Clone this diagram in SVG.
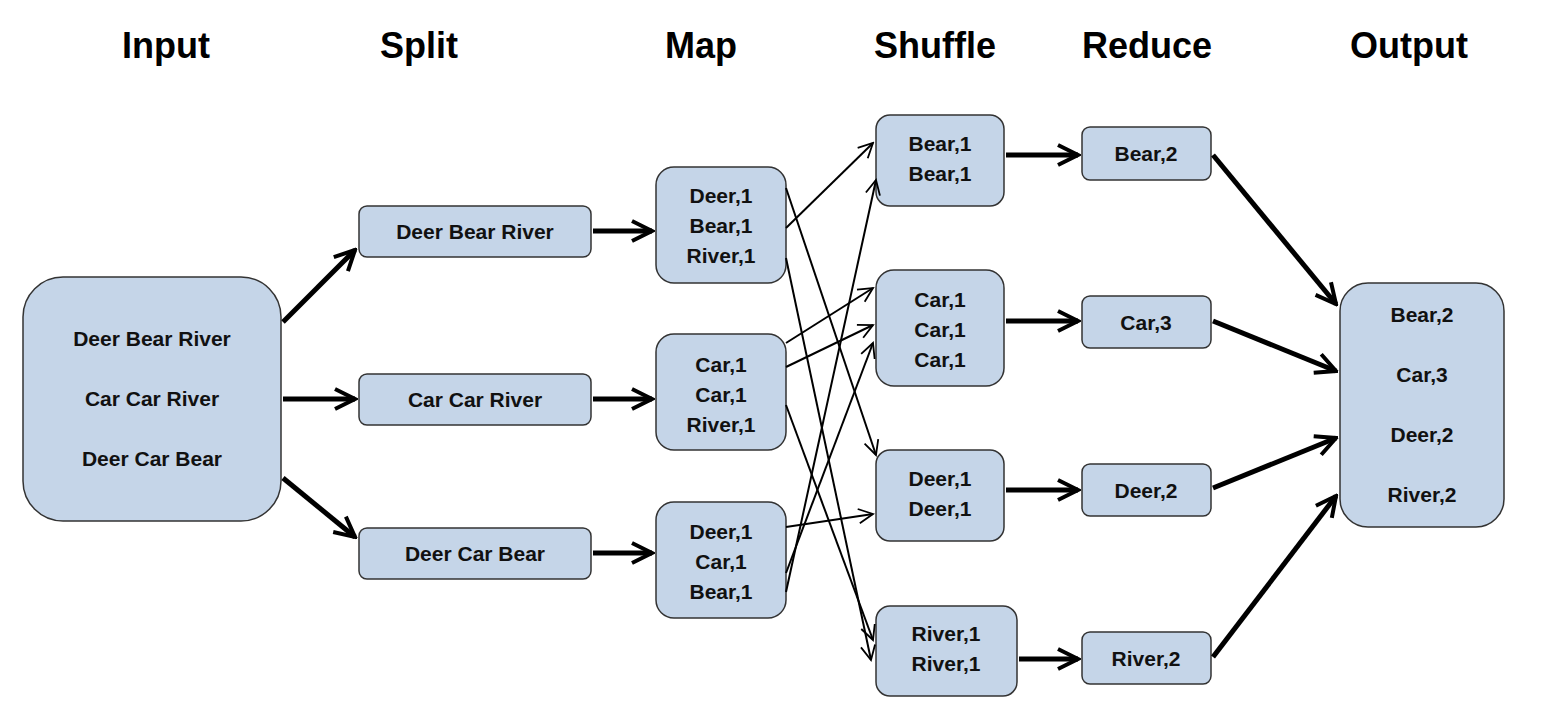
<svg xmlns="http://www.w3.org/2000/svg" width="1542" height="718" viewBox="0 0 1542 718">
<style>
.b{fill:#c5d5e8;stroke:#333;stroke-width:1.5}
text{font-family:"Liberation Sans",Arial,sans-serif;font-weight:bold;text-anchor:middle}
.t{font-size:21px;fill:#111}
.h{font-size:36px;fill:#000}
.k{stroke:#000;stroke-width:5;fill:none;marker-end:url(#a)}
.n{stroke:#000;stroke-width:2;fill:none;marker-end:url(#s)}
</style>
<defs>
<marker id="a" viewBox="0 0 10 10" refX="9" refY="5" markerWidth="5" markerHeight="5" orient="auto" markerUnits="strokeWidth"><path d="M1,1L9,5L1,9" fill="none" stroke="#000" stroke-width="1.6"/></marker>
<marker id="s" viewBox="0 0 10 10" refX="9" refY="5" markerWidth="9" markerHeight="9" orient="auto" markerUnits="strokeWidth"><path d="M1,1L9,5L1,9" fill="none" stroke="#000" stroke-width="1"/></marker>
</defs>
<g id="headers">
<text class="h" x="166" y="58">Input</text><text class="h" x="419" y="58">Split</text><text class="h" x="701" y="58">Map</text><text class="h" x="935" y="58">Shuffle</text><text class="h" x="1147" y="58">Reduce</text><text class="h" x="1409" y="58">Output</text>
</g>
<g id="input"><rect class="b" x="23" y="277" width="258" height="244" rx="40"/><text class="t" x="152" y="346">Deer Bear River</text><text class="t" x="152" y="406">Car Car River</text><text class="t" x="152" y="466">Deer Car Bear</text></g>
<g id="split1"><rect class="b" x="359" y="206" width="232" height="51" rx="8"/><text class="t" x="475" y="239">Deer Bear River</text></g>
<g id="split2"><rect class="b" x="359" y="374" width="232" height="51" rx="8"/><text class="t" x="475" y="407">Car Car River</text></g>
<g id="split3"><rect class="b" x="359" y="528" width="232" height="51" rx="8"/><text class="t" x="475" y="561">Deer Car Bear</text></g>
<g id="map1"><rect class="b" x="656" y="167" width="130" height="116" rx="18"/><text class="t" x="721" y="203">Deer,1</text><text class="t" x="721" y="233">Bear,1</text><text class="t" x="721" y="263">River,1</text></g>
<g id="map2"><rect class="b" x="656" y="334" width="130" height="116" rx="18"/><text class="t" x="721" y="372">Car,1</text><text class="t" x="721" y="402">Car,1</text><text class="t" x="721" y="432">River,1</text></g>
<g id="map3"><rect class="b" x="656" y="502" width="130" height="116" rx="18"/><text class="t" x="721" y="539">Deer,1</text><text class="t" x="721" y="569">Car,1</text><text class="t" x="721" y="599">Bear,1</text></g>
<g id="sh1"><rect class="b" x="876" y="115" width="128" height="91" rx="14"/><text class="t" x="940" y="151">Bear,1</text><text class="t" x="940" y="181">Bear,1</text></g>
<g id="sh2"><rect class="b" x="876" y="270" width="128" height="116" rx="18"/><text class="t" x="940" y="307">Car,1</text><text class="t" x="940" y="337">Car,1</text><text class="t" x="940" y="367">Car,1</text></g>
<g id="sh3"><rect class="b" x="876" y="450" width="128" height="91" rx="14"/><text class="t" x="940" y="486">Deer,1</text><text class="t" x="940" y="516">Deer,1</text></g>
<g id="sh4"><rect class="b" x="876" y="606" width="141" height="90" rx="14"/><text class="t" x="946" y="641">River,1</text><text class="t" x="946" y="671">River,1</text></g>
<g id="r1"><rect class="b" x="1082" y="127" width="129" height="53" rx="8"/><text class="t" x="1146" y="161">Bear,2</text></g>
<g id="r2"><rect class="b" x="1082" y="296" width="129" height="52" rx="8"/><text class="t" x="1146" y="330">Car,3</text></g>
<g id="r3"><rect class="b" x="1082" y="464" width="129" height="52" rx="8"/><text class="t" x="1146" y="498">Deer,2</text></g>
<g id="r4"><rect class="b" x="1082" y="632" width="129" height="52" rx="8"/><text class="t" x="1146" y="666">River,2</text></g>
<g id="out"><rect class="b" x="1340" y="283" width="164" height="244" rx="28"/><text class="t" x="1422" y="322">Bear,2</text><text class="t" x="1422" y="382">Car,3</text><text class="t" x="1422" y="442">Deer,2</text><text class="t" x="1422" y="502">River,2</text></g>
<g id="connectors">
<path class="k" d="M283,322L355,250"/><path class="k" d="M283,399L355,399"/><path class="k" d="M283,478L355,537"/>
<path class="k" d="M593,231L652,231"/><path class="k" d="M593,399L652,399"/><path class="k" d="M593,553L652,553"/>
<path class="k" d="M1006,155L1078,155"/><path class="k" d="M1006,321L1078,321"/><path class="k" d="M1006,490L1078,490"/><path class="k" d="M1019,659L1078,659"/>
<path class="k" d="M1213,155L1336,304"/><path class="k" d="M1213,321L1336,371"/><path class="k" d="M1213,488L1336,438"/><path class="k" d="M1213,657L1336,496"/>
<path class="n" d="M786,228L873,143"/><path class="n" d="M786,188L876,455"/><path class="n" d="M786,258L871,660"/>
<path class="n" d="M786,343L873,288"/><path class="n" d="M786,367L873,325"/><path class="n" d="M786,405L873,640"/>
<path class="n" d="M786,527L873,514"/><path class="n" d="M786,573L873,343"/><path class="n" d="M786,592L876,180"/>
</g>
</svg>
